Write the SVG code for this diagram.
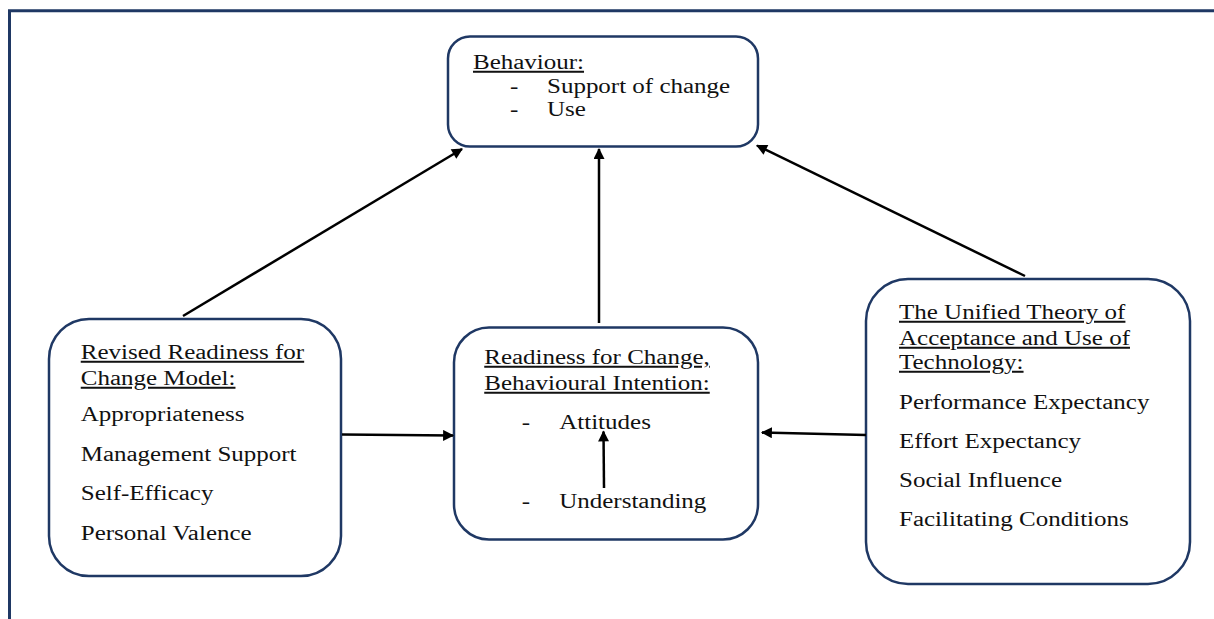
<svg xmlns="http://www.w3.org/2000/svg" width="1214" height="619" viewBox="0 0 1214 619">
  <style>
    .frame { fill: none; stroke: #1f3864; stroke-width: 3; }
    .node { fill: #ffffff; stroke: #1f3864; stroke-width: 2.5; }
    .edge { fill: none; stroke: #000000; stroke-width: 2.5; }
    .label { font-family: 'Liberation Serif', 'Times New Roman', 'DejaVu Serif', serif; font-size: 20px; fill: #111111; }
    .head { text-decoration: underline; }
  </style>
  <defs>
    <marker id="arrow" viewBox="0 0 10 10" refX="9" refY="5" markerWidth="5" markerHeight="4.4" orient="auto" markerUnits="strokeWidth">
      <path d="M0,0 L10,5 L0,10 z" fill="#000000"/>
    </marker>
  </defs>

  <rect width="1214" height="619" fill="#ffffff"/>

  <!-- page frame -->
  <path class="frame" d="M9.5,619 V10.8 H1214"/>

  <!-- Behaviour -->
  <g id="behaviour">
    <rect class="node" x="448" y="36.5" width="310" height="110" rx="22" ry="22"/>
    <g class="label" font-family="Liberation Serif, serif" transform="scale(1.25 1)">
      <text class="head" x="378.4" y="69">Behaviour:</text>
      <text x="408" y="93">-</text>
      <text x="437.6" y="93">Support of change</text>
      <text x="408" y="116">-</text>
      <text x="437.6" y="116">Use</text>
    </g>
  </g>

  <!-- Revised Readiness for Change Model -->
  <g id="rrcm">
    <rect class="node" x="49" y="319" width="292" height="257" rx="40" ry="40"/>
    <g class="label" font-family="Liberation Serif, serif" transform="scale(1.25 1)">
      <text class="head" x="64.6" y="359">Revised Readiness for</text>
      <text class="head" x="64.6" y="385">Change Model:</text>
      <text x="64.6" y="421.5">Appropriateness</text>
      <text x="64.6" y="461.5">Management Support</text>
      <text x="64.6" y="500.5">Self-Efficacy</text>
      <text x="64.6" y="540">Personal Valence</text>
    </g>
  </g>

  <!-- Readiness for Change, Behavioural Intention -->
  <g id="readiness">
    <rect class="node" x="454" y="327.5" width="304" height="212" rx="35" ry="35"/>
    <g class="label" font-family="Liberation Serif, serif" transform="scale(1.25 1)">
      <text class="head" x="387.4" y="364">Readiness for Change,</text>
      <text class="head" x="387.4" y="390">Behavioural Intention:</text>
      <text x="417.4" y="429">-</text>
      <text x="447.4" y="429">Attitudes</text>
      <text x="417.4" y="508">-</text>
      <text x="447.4" y="508">Understanding</text>
    </g>
  </g>

  <!-- UTAUT -->
  <g id="utaut">
    <rect class="node" x="866" y="279" width="324" height="305" rx="42" ry="42"/>
    <g class="label" font-family="Liberation Serif, serif" transform="scale(1.25 1)">
      <text class="head" x="719.2" y="319">The Unified Theory of</text>
      <text class="head" x="719.2" y="345">Acceptance and Use of</text>
      <text class="head" x="719.2" y="369">Technology:</text>
      <text x="719.2" y="408.5">Performance Expectancy</text>
      <text x="719.2" y="448">Effort Expectancy</text>
      <text x="719.2" y="487">Social Influence</text>
      <text x="719.2" y="526">Facilitating Conditions</text>
    </g>
  </g>

  <!-- connectors, drawn last so the inner arrow sits above the box fill -->
  <g id="connectors">
    <line class="edge" x1="183" y1="316" x2="462" y2="149" marker-end="url(#arrow)"/>
    <line class="edge" x1="599" y1="323" x2="599" y2="149" marker-end="url(#arrow)"/>
    <line class="edge" x1="1025" y1="276" x2="757" y2="145.5" marker-end="url(#arrow)"/>
    <line class="edge" x1="342" y1="434.5" x2="453" y2="435.5" marker-end="url(#arrow)"/>
    <line class="edge" x1="866" y1="435" x2="762" y2="432.5" marker-end="url(#arrow)"/>
    <line class="edge" x1="604" y1="488" x2="603.5" y2="431.5" marker-end="url(#arrow)"/>
  </g>
</svg>
